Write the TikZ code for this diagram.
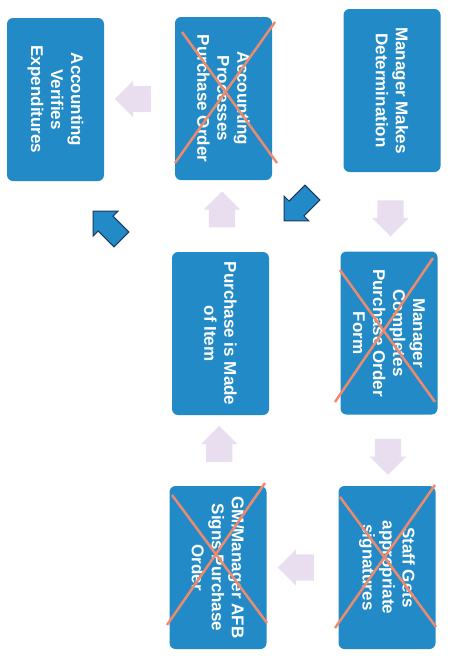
\documentclass[tikz,border=0pt]{standalone}
\usepackage{fontspec}
\setmainfont{Liberation Sans}
\usetikzlibrary{shapes, shapes.arrows, calc}

\definecolor{boxblue}{RGB}{34,139,199}
\definecolor{lavender}{RGB}{232,222,240}
\definecolor{crossred}{RGB}{236,138,112}
\definecolor{darkedge}{RGB}{25,55,95}

\begin{document}
\begin{tikzpicture}[x=1pt, y=-1pt, font=\fontsize{17}{20}\selectfont\bfseries,
  procbox/.style={rectangle, rounded corners=6pt, fill=boxblue, text=white, rotate=-90,
    minimum width=163pt, minimum height=97pt, align=center, inner sep=2pt},
  flowarrow/.style={single arrow, fill=lavender, minimum height=36pt, inner xsep=0pt,
    inner ysep=13pt, single arrow head extend=5pt},
  jumparrow/.style={single arrow, fill=boxblue, draw=darkedge, line width=1pt,
    minimum height=40pt, inner xsep=0pt, inner ysep=10pt, single arrow head extend=7pt},
  strikeout/.style={crossred, line width=2.5pt}]
\useasboundingbox (0,0) rectangle (457,656);
%
\node[procbox] (verify) at (55.5,99.5) {Accounting\\Verifies\\Expenditures};
\node[procbox] (procpo) at (223.5,98.5) {Accounting\\Processes\\Purchase Order};
\node[procbox] (decide) at (392,90.5) {Manager Makes\\Determination};
\node[procbox] (purchase) at (220.5,333.5) {Purchase is Made\\of Item};
\node[procbox] (fillform) at (389,333) {Manager\\Completes\\Purchase Order\\Form};
\node[procbox] (gmsign) at (218,567.5) {GM/Manager AFB\\Signs Purchase\\Order};
\node[procbox] (staffsig) at (387,567.5) {Staff Gets\\appropriate\\signatures};
%
\node[flowarrow, rotate=-90] (a1) at ($(decide.east)!0.5!(fillform.west)$) {};
\node[flowarrow, rotate=-90] (a2) at ($(fillform.east)!0.5!(staffsig.west)$) {};
\node[flowarrow, rotate=180] (a3) at ($(staffsig.south)!0.5!(gmsign.north)$) {};
\node[flowarrow, rotate=90] (a4) at ($(gmsign.west)!0.5!(purchase.east)$) {};
\node[flowarrow, rotate=90] (a5) at ($(purchase.west)!0.5!(procpo.east)$) {};
\node[flowarrow, rotate=180] (a6) at ($(procpo.south)!0.5!(verify.north)$) {};
%
\node[jumparrow, rotate=225] (j1) at (302,203) {};
\node[jumparrow, rotate=135] (j2) at (111,229) {};
%
\draw[strikeout] ($(procpo)+(-41.5,-66.5)$) -- ($(procpo)+(53.5,64.5)$);
\draw[strikeout] ($(procpo)+(-48.5,64.5)$) -- ($(procpo)+(51.5,-76.5)$);
\draw[strikeout] ($(fillform)+(-49,-63)$) -- ($(fillform)+(46,69)$);
\draw[strikeout] ($(fillform)+(-54,69)$) -- ($(fillform)+(44,-75)$);
\draw[strikeout] ($(gmsign)+(-46,-72.5)$) -- ($(gmsign)+(49,55.5)$);
\draw[strikeout] ($(gmsign)+(-51,57.5)$) -- ($(gmsign)+(47,-84.5)$);
\draw[strikeout] ($(staffsig)+(-47,-70.5)$) -- ($(staffsig)+(49,59.5)$);
\draw[strikeout] ($(staffsig)+(-52,60.5)$) -- ($(staffsig)+(48,-82.5)$);
\end{tikzpicture}
\end{document}
